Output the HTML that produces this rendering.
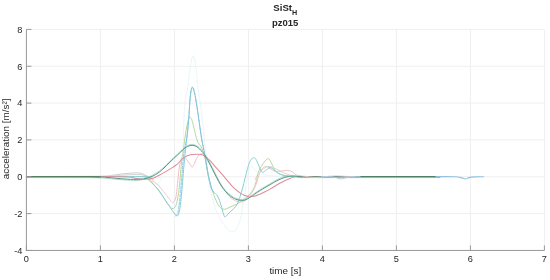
<!DOCTYPE html>
<html><head><meta charset="utf-8"><style>
html,body{margin:0;padding:0;background:#fff;}
body{width:550px;height:280px;overflow:hidden;}
svg{display:block;font-family:"Liberation Sans",Arial,sans-serif;fill:#262626;}
</style></head><body>
<svg width="550" height="280" viewBox="0 0 550 280">
<rect width="550" height="280" fill="#fff"/>
<line x1="100.40" y1="29.40" x2="100.40" y2="250.44" stroke="#efefef" stroke-width="1"/>
<line x1="174.40" y1="29.40" x2="174.40" y2="250.44" stroke="#efefef" stroke-width="1"/>
<line x1="248.40" y1="29.40" x2="248.40" y2="250.44" stroke="#efefef" stroke-width="1"/>
<line x1="322.40" y1="29.40" x2="322.40" y2="250.44" stroke="#efefef" stroke-width="1"/>
<line x1="396.40" y1="29.40" x2="396.40" y2="250.44" stroke="#efefef" stroke-width="1"/>
<line x1="470.40" y1="29.40" x2="470.40" y2="250.44" stroke="#efefef" stroke-width="1"/>
<line x1="544.40" y1="29.40" x2="544.40" y2="250.44" stroke="#efefef" stroke-width="1"/>
<line x1="26.40" y1="213.60" x2="544.40" y2="213.60" stroke="#efefef" stroke-width="1"/>
<line x1="26.40" y1="176.76" x2="544.40" y2="176.76" stroke="#efefef" stroke-width="1"/>
<line x1="26.40" y1="139.92" x2="544.40" y2="139.92" stroke="#efefef" stroke-width="1"/>
<line x1="26.40" y1="103.08" x2="544.40" y2="103.08" stroke="#efefef" stroke-width="1"/>
<line x1="26.40" y1="66.24" x2="544.40" y2="66.24" stroke="#efefef" stroke-width="1"/>
<line x1="26.40" y1="29.40" x2="544.40" y2="29.40" stroke="#efefef" stroke-width="1"/>
<path d="M95.00 176.60 C96.67 176.53 102.17 176.42 105.00 176.20 C107.83 175.98 109.50 175.63 112.00 175.30 C114.50 174.97 117.00 174.55 120.00 174.20 C123.00 173.85 126.90 173.42 130.00 173.20 C133.10 172.98 136.27 172.67 138.60 172.90 C140.93 173.13 142.18 173.87 144.00 174.60 C145.82 175.33 148.00 176.48 149.50 177.30 C151.00 178.12 152.42 179.13 153.00 179.50" fill="none" stroke="#c6c6c6" stroke-width="0.9" stroke-opacity="1" stroke-linejoin="round" stroke-linecap="round"/>
<path d="M95.00 176.70 C96.67 176.67 101.37 176.68 105.00 176.50 C108.63 176.32 113.47 175.85 116.80 175.60 C120.13 175.35 122.27 175.18 125.00 175.00 C127.73 174.82 130.70 174.57 133.20 174.50 C135.70 174.43 138.03 174.43 140.00 174.60 C141.97 174.77 143.33 175.02 145.00 175.50 C146.67 175.98 148.67 176.92 150.00 177.50 C151.33 178.08 152.50 178.75 153.00 179.00" fill="none" stroke="#cfcfcf" stroke-width="0.9" stroke-opacity="1" stroke-linejoin="round" stroke-linecap="round"/>
<path d="M255.00 180.00 C255.50 179.00 256.83 175.67 258.00 174.00 C259.17 172.33 260.33 171.25 262.00 170.00 C263.67 168.75 266.00 166.83 268.00 166.50 C270.00 166.17 272.00 167.25 274.00 168.00 C276.00 168.75 277.67 169.92 280.00 171.00 C282.33 172.08 285.33 173.60 288.00 174.50 C290.67 175.40 293.17 176.05 296.00 176.40 C298.83 176.75 303.50 176.57 305.00 176.60" fill="none" stroke="#d0d0d0" stroke-width="0.9" stroke-opacity="1" stroke-linejoin="round" stroke-linecap="round"/>
<path d="M26.40 176.60 C45.33 176.60 119.63 176.15 140.00 176.60 C160.37 177.05 146.10 177.73 148.60 179.30 C151.10 180.87 152.87 183.50 155.00 186.00 C157.13 188.50 159.40 191.47 161.40 194.30 C163.40 197.13 165.23 200.63 167.00 203.00 C168.77 205.37 170.50 208.17 172.00 208.50 C173.50 208.83 174.83 208.08 176.00 205.00 C177.17 201.92 178.08 197.00 179.00 190.00 C179.92 183.00 180.57 171.33 181.50 163.00 C182.43 154.67 183.60 146.67 184.60 140.00 C185.60 133.33 186.60 126.77 187.50 123.00 C188.40 119.23 189.17 117.57 190.00 117.40 C190.83 117.23 191.33 118.23 192.50 122.00 C193.67 125.77 195.47 135.67 197.00 140.00 C198.53 144.33 200.37 145.00 201.70 148.00 C203.03 151.00 204.03 154.00 205.00 158.00 C205.97 162.00 206.50 167.33 207.50 172.00 C208.50 176.67 209.75 181.67 211.00 186.00 C212.25 190.33 213.67 194.67 215.00 198.00 C216.33 201.33 217.75 204.17 219.00 206.00 C220.25 207.83 221.33 208.50 222.50 209.00 C223.67 209.50 224.75 209.33 226.00 209.00 C227.25 208.67 228.33 207.75 230.00 207.00 C231.67 206.25 234.00 205.50 236.00 204.50 C238.00 203.50 240.00 202.42 242.00 201.00 C244.00 199.58 246.17 197.83 248.00 196.00 C249.83 194.17 251.67 192.33 253.00 190.00 C254.33 187.67 255.08 185.00 256.00 182.00 C256.92 179.00 257.62 174.58 258.50 172.00 C259.38 169.42 260.17 168.33 261.25 166.50 C262.33 164.67 263.75 162.29 265.00 161.00 C266.25 159.71 267.60 158.25 268.75 158.75 C269.90 159.25 270.86 162.07 271.90 164.00 C272.94 165.93 273.86 168.70 275.00 170.30 C276.14 171.90 277.08 172.72 278.75 173.60 C280.42 174.48 282.79 175.13 285.00 175.60 C287.21 176.07 289.50 176.23 292.00 176.40 C294.50 176.57 275.33 176.57 300.00 176.60 C324.67 176.63 416.67 176.60 440.00 176.60" fill="none" stroke="#b9d99a" stroke-width="1" stroke-opacity="1" stroke-linejoin="round" stroke-linecap="round"/>
<path d="M26.40 176.60 C45.33 176.60 119.63 176.45 140.00 176.60 C160.37 176.75 146.70 176.93 148.60 177.50 C150.50 178.07 149.73 178.63 151.40 180.00 C153.07 181.37 156.22 183.32 158.60 185.70 C160.98 188.08 163.80 191.92 165.70 194.30 C167.60 196.68 168.82 198.63 170.00 200.00 C171.18 201.37 171.97 202.50 172.80 202.50 C173.63 202.50 174.40 201.37 175.00 200.00 C175.60 198.63 175.92 197.63 176.40 194.30 C176.88 190.97 177.38 184.72 177.90 180.00 C178.42 175.28 178.90 169.58 179.50 166.00 C180.10 162.42 180.65 159.90 181.50 158.50 C182.35 157.10 183.58 157.22 184.60 157.60 C185.62 157.98 186.70 159.67 187.60 160.80 C188.50 161.93 189.23 163.37 190.00 164.40 C190.77 165.43 191.45 167.15 192.20 167.00 C192.95 166.85 193.77 164.97 194.50 163.50 C195.23 162.03 195.85 159.62 196.60 158.20 C197.35 156.78 198.18 155.73 199.00 155.00 C199.82 154.27 200.75 153.97 201.50 153.80 C202.25 153.63 202.67 153.47 203.50 154.00 C204.33 154.53 205.33 155.33 206.50 157.00 C207.67 158.67 208.92 161.00 210.50 164.00 C212.08 167.00 214.08 171.33 216.00 175.00 C217.92 178.67 220.00 182.67 222.00 186.00 C224.00 189.33 226.00 192.67 228.00 195.00 C230.00 197.33 232.00 198.83 234.00 200.00 C236.00 201.17 238.00 202.00 240.00 202.00 C242.00 202.00 244.17 201.33 246.00 200.00 C247.83 198.67 249.58 196.00 251.00 194.00 C252.42 192.00 253.52 190.00 254.50 188.00 C255.48 186.00 256.15 184.17 256.90 182.00 C257.65 179.83 258.27 177.08 259.00 175.00 C259.73 172.92 260.15 170.92 261.25 169.50 C262.35 168.08 264.31 166.78 265.60 166.50 C266.89 166.22 267.64 167.05 269.00 167.80 C270.36 168.55 272.42 170.40 273.75 171.00 C275.08 171.60 275.75 171.40 277.00 171.40 C278.25 171.40 279.50 171.17 281.25 171.00 C283.00 170.83 285.62 170.25 287.50 170.40 C289.38 170.55 291.25 171.27 292.50 171.90 C293.75 172.53 293.75 173.45 295.00 174.20 C296.25 174.95 297.50 176.00 300.00 176.40 C302.50 176.80 286.67 176.57 310.00 176.60 C333.33 176.63 418.33 176.60 440.00 176.60" fill="none" stroke="#f2c0c8" stroke-width="1" stroke-opacity="1" stroke-linejoin="round" stroke-linecap="round"/>
<path d="M26.40 176.60 C47.00 176.60 128.07 175.37 150.00 176.60 C171.93 177.83 155.33 180.93 158.00 184.00 C160.67 187.07 163.33 191.67 166.00 195.00 C168.67 198.33 171.83 202.17 174.00 204.00 C176.17 205.83 177.67 208.33 179.00 206.00 C180.33 203.67 181.12 205.77 182.00 190.00 C182.88 174.23 183.32 128.67 184.30 111.40 C185.28 94.13 186.87 93.97 187.90 86.40 C188.93 78.83 189.62 71.07 190.50 66.00 C191.38 60.93 192.32 56.00 193.20 56.00 C194.08 56.00 195.02 60.93 195.80 66.00 C196.58 71.07 196.97 78.83 197.90 86.40 C198.83 93.97 200.38 103.30 201.40 111.40 C202.42 119.50 203.07 126.07 204.00 135.00 C204.93 143.93 205.83 155.50 207.00 165.00 C208.17 174.50 209.50 184.50 211.00 192.00 C212.50 199.50 214.33 205.33 216.00 210.00 C217.67 214.67 219.23 216.92 221.00 220.00 C222.77 223.08 225.10 226.67 226.60 228.50 C228.10 230.33 228.77 230.50 230.00 231.00 C231.23 231.50 232.75 232.17 234.00 231.50 C235.25 230.83 236.42 229.08 237.50 227.00 C238.58 224.92 239.58 222.67 240.50 219.00 C241.42 215.33 242.08 210.50 243.00 205.00 C243.92 199.50 245.08 191.50 246.00 186.00 C246.92 180.50 247.73 175.25 248.50 172.00 C249.27 168.75 249.85 167.25 250.60 166.50 C251.35 165.75 252.06 166.71 253.00 167.50 C253.94 168.29 254.88 170.17 256.25 171.25 C257.62 172.33 258.96 173.28 261.25 174.00 C263.54 174.72 266.04 175.20 270.00 175.60 C273.96 176.00 280.00 176.23 285.00 176.40 C290.00 176.57 274.17 176.57 300.00 176.60 C325.83 176.63 416.67 176.60 440.00 176.60" fill="none" stroke="#dcf0f6" stroke-width="0.8" stroke-opacity="1" stroke-linejoin="round" stroke-linecap="round" stroke-dasharray="1.2 1.2"/>
<path d="M26.40 176.60 C45.33 176.60 120.23 176.53 140.00 176.60 C159.77 176.67 143.10 176.02 145.00 177.00 C146.90 177.98 149.13 180.33 151.40 182.50 C153.67 184.67 156.45 187.32 158.60 190.00 C160.75 192.68 162.40 195.75 164.30 198.60 C166.20 201.45 168.38 204.70 170.00 207.10 C171.62 209.50 172.87 211.55 174.00 213.00 C175.13 214.45 176.03 215.63 176.80 215.80 C177.57 215.97 178.07 215.38 178.60 214.00 C179.13 212.62 179.53 210.67 180.00 207.50 C180.47 204.33 180.97 199.28 181.40 195.00 C181.83 190.72 182.17 186.80 182.60 181.80 C183.03 176.80 183.52 170.30 184.00 165.00 C184.48 159.70 185.03 154.50 185.50 150.00 C185.97 145.50 186.38 141.83 186.80 138.00 C187.22 134.17 187.63 130.83 188.00 127.00 C188.37 123.17 188.68 119.33 189.00 115.00 C189.32 110.67 189.57 105.00 189.90 101.00 C190.23 97.00 190.60 93.30 191.00 91.00 C191.40 88.70 191.83 87.37 192.30 87.20 C192.77 87.03 193.27 88.28 193.80 90.00 C194.33 91.72 194.97 94.67 195.50 97.50 C196.03 100.33 196.48 103.58 197.00 107.00 C197.52 110.42 198.05 114.17 198.60 118.00 C199.15 121.83 199.70 126.00 200.30 130.00 C200.90 134.00 201.53 138.33 202.20 142.00 C202.87 145.67 203.63 148.50 204.30 152.00 C204.97 155.50 205.55 159.17 206.20 163.00 C206.85 166.83 207.57 171.67 208.20 175.00 C208.83 178.33 209.42 180.67 210.00 183.00 C210.58 185.33 211.12 187.47 211.70 189.00 C212.28 190.53 212.87 191.43 213.50 192.20 C214.13 192.97 214.83 192.97 215.50 193.60 C216.17 194.23 216.83 194.85 217.50 196.00 C218.17 197.15 218.80 198.58 219.50 200.50 C220.20 202.42 221.03 205.25 221.70 207.50 C222.37 209.75 222.95 212.40 223.50 214.00 C224.05 215.60 224.30 217.05 225.00 217.10 C225.70 217.15 226.68 215.32 227.70 214.30 C228.72 213.28 229.95 212.08 231.10 211.00 C232.25 209.92 233.63 208.87 234.60 207.80 C235.57 206.73 236.23 205.73 236.90 204.60 C237.57 203.47 238.05 202.43 238.60 201.00 C239.15 199.57 239.53 198.17 240.20 196.00 C240.87 193.83 241.80 190.92 242.60 188.00 C243.40 185.08 244.17 181.75 245.00 178.50 C245.83 175.25 246.78 171.33 247.60 168.50 C248.42 165.67 248.95 163.32 249.90 161.50 C250.85 159.68 252.28 157.93 253.30 157.60 C254.32 157.27 255.13 158.27 256.00 159.50 C256.87 160.73 257.62 163.08 258.50 165.00 C259.38 166.92 260.50 169.77 261.25 171.00 C262.00 172.23 262.27 172.48 263.00 172.40 C263.73 172.32 264.43 171.30 265.60 170.50 C266.77 169.70 268.64 167.75 270.00 167.60 C271.36 167.45 272.50 168.73 273.75 169.60 C275.00 170.47 276.04 171.90 277.50 172.80 C278.96 173.70 280.62 174.43 282.50 175.00 C284.38 175.57 286.50 175.98 288.75 176.25 C291.00 176.52 270.79 176.54 296.00 176.60 C321.21 176.66 416.00 176.60 440.00 176.60" fill="none" stroke="#86d0d6" stroke-width="1" stroke-opacity="1" stroke-linejoin="round" stroke-linecap="round"/>
<path d="M175.60 215.80 C175.90 215.50 176.87 215.38 177.40 214.00 C177.93 212.62 178.33 210.67 178.80 207.50 C179.27 204.33 179.77 199.28 180.20 195.00 C180.63 190.72 180.97 186.80 181.40 181.80 C181.83 176.80 182.32 170.30 182.80 165.00 C183.28 159.70 183.63 154.50 184.30 150.00 C184.97 145.50 186.18 141.83 186.80 138.00 C187.42 134.17 187.63 130.83 188.00 127.00 C188.37 123.17 188.68 119.33 189.00 115.00 C189.32 110.67 189.57 105.00 189.90 101.00 C190.23 97.00 190.60 93.30 191.00 91.00 C191.40 88.70 191.83 87.37 192.30 87.20 C192.77 87.03 193.27 88.28 193.80 90.00 C194.33 91.72 194.97 94.67 195.50 97.50 C196.03 100.33 196.48 103.58 197.00 107.00 C197.52 110.42 198.05 114.17 198.60 118.00 C199.15 121.83 199.70 126.00 200.30 130.00 C200.90 134.00 201.53 138.33 202.20 142.00 C202.87 145.67 203.63 148.50 204.30 152.00 C204.97 155.50 205.55 159.17 206.20 163.00 C206.85 166.83 207.57 171.67 208.20 175.00 C208.83 178.33 209.42 180.67 210.00 183.00 C210.58 185.33 211.12 187.47 211.70 189.00 C212.28 190.53 213.20 191.67 213.50 192.20" fill="none" stroke="#86bde0" stroke-width="0.9" stroke-opacity="1" stroke-linejoin="round" stroke-linecap="round" stroke-dasharray="2.4 1.6"/>
<path d="M26.40 176.60 C42.00 176.63 101.90 176.53 120.00 176.80 C138.10 177.07 130.83 177.78 135.00 178.20 C139.17 178.62 141.90 179.35 145.00 179.30 C148.10 179.25 150.75 178.85 153.60 177.90 C156.45 176.95 159.25 175.15 162.10 173.60 C164.95 172.05 168.07 170.27 170.70 168.60 C173.33 166.93 175.97 165.23 177.90 163.60 C179.83 161.97 180.73 160.10 182.30 158.80 C183.87 157.50 185.63 156.53 187.30 155.80 C188.97 155.07 190.52 154.67 192.30 154.40 C194.08 154.13 196.47 154.17 198.00 154.20 C199.53 154.23 200.40 154.25 201.50 154.60 C202.60 154.95 203.13 155.27 204.60 156.30 C206.07 157.33 208.57 159.12 210.30 160.80 C212.03 162.48 213.03 164.15 215.00 166.40 C216.97 168.65 220.10 172.00 222.10 174.30 C224.10 176.60 225.08 177.98 227.00 180.20 C228.92 182.42 231.32 185.40 233.60 187.60 C235.88 189.80 238.80 192.07 240.70 193.40 C242.60 194.73 243.70 195.08 245.00 195.60 C246.30 196.12 247.07 196.38 248.50 196.50 C249.93 196.62 251.80 196.65 253.60 196.30 C255.40 195.95 257.40 195.15 259.30 194.40 C261.20 193.65 263.07 192.77 265.00 191.80 C266.93 190.83 269.07 189.65 270.90 188.60 C272.73 187.55 274.18 186.55 276.00 185.50 C277.82 184.45 280.13 183.20 281.80 182.30 C283.47 181.40 284.55 180.78 286.00 180.10 C287.45 179.42 288.83 178.75 290.50 178.20 C292.17 177.65 293.35 177.07 296.00 176.80 C298.65 176.53 282.40 176.63 306.40 176.60 C330.40 176.57 417.73 176.60 440.00 176.60" fill="none" stroke="#df8d99" stroke-width="1.05" stroke-opacity="1" stroke-linejoin="round" stroke-linecap="round"/>
<path d="M26.40 177.60 C37.00 177.62 76.75 177.58 90.00 177.70 C103.25 177.82 101.43 178.02 105.90 178.30 C110.37 178.58 113.17 179.08 116.80 179.40 C120.43 179.72 124.07 180.03 127.70 180.20 C131.33 180.37 135.72 180.67 138.60 180.40 C141.48 180.13 142.75 179.43 145.00 178.60 C147.25 177.77 149.72 176.65 152.10 175.40 C154.48 174.15 156.92 172.88 159.30 171.10 C161.68 169.32 164.02 166.95 166.40 164.70 C168.78 162.45 171.22 159.87 173.60 157.60 C175.98 155.33 178.78 152.90 180.70 151.10 C182.62 149.30 183.55 147.88 185.10 146.80 C186.65 145.72 188.52 144.97 190.00 144.60 C191.48 144.23 192.67 144.28 194.00 144.60 C195.33 144.92 196.88 145.72 198.00 146.50 C199.12 147.28 199.85 148.43 200.70 149.30 C201.55 150.17 202.15 150.45 203.10 151.70 C204.05 152.95 204.90 154.15 206.40 156.80 C207.90 159.45 210.43 164.38 212.10 167.60 C213.77 170.82 214.97 173.37 216.40 176.10 C217.83 178.83 219.18 181.62 220.70 184.00 C222.22 186.38 223.60 188.35 225.50 190.40 C227.40 192.45 230.18 194.93 232.10 196.30 C234.02 197.67 235.52 198.10 237.00 198.60 C238.48 199.10 239.67 199.23 241.00 199.30 C242.33 199.37 243.38 199.55 245.00 199.00 C246.62 198.45 249.15 196.93 250.70 196.00 C252.25 195.07 252.75 194.47 254.30 193.40 C255.85 192.33 258.22 190.73 260.00 189.60 C261.78 188.47 263.18 187.67 265.00 186.60 C266.82 185.53 269.07 184.27 270.90 183.20 C272.73 182.13 274.18 181.15 276.00 180.20 C277.82 179.25 279.97 178.17 281.80 177.50 C283.63 176.83 285.30 176.41 287.00 176.17 C288.70 175.92 289.83 175.84 292.00 176.03 C294.17 176.22 297.00 177.04 300.00 177.30 C303.00 177.56 286.67 177.55 310.00 177.60 C333.33 177.65 418.33 177.60 440.00 177.60" fill="none" stroke="#a8d6cc" stroke-width="0.9" stroke-opacity="1" stroke-linejoin="round" stroke-linecap="round"/>
<path d="M26.40 176.60 C37.00 176.62 76.75 176.58 90.00 176.70 C103.25 176.82 101.43 177.02 105.90 177.30 C110.37 177.58 113.17 178.08 116.80 178.40 C120.43 178.72 124.07 179.03 127.70 179.20 C131.33 179.37 135.72 179.50 138.60 179.40 C141.48 179.30 142.75 179.10 145.00 178.60 C147.25 178.10 149.72 177.48 152.10 176.40 C154.48 175.32 156.92 173.88 159.30 172.10 C161.68 170.32 164.02 167.95 166.40 165.70 C168.78 163.45 171.22 160.87 173.60 158.60 C175.98 156.33 178.78 153.90 180.70 152.10 C182.62 150.30 183.55 148.88 185.10 147.80 C186.65 146.72 188.52 145.97 190.00 145.60 C191.48 145.23 192.67 145.28 194.00 145.60 C195.33 145.92 196.88 146.72 198.00 147.50 C199.12 148.28 199.85 149.43 200.70 150.30 C201.55 151.17 202.15 151.45 203.10 152.70 C204.05 153.95 204.90 155.15 206.40 157.80 C207.90 160.45 210.43 165.38 212.10 168.60 C213.77 171.82 214.97 174.37 216.40 177.10 C217.83 179.83 219.18 182.62 220.70 185.00 C222.22 187.38 223.60 189.35 225.50 191.40 C227.40 193.45 230.18 195.93 232.10 197.30 C234.02 198.67 235.52 199.10 237.00 199.60 C238.48 200.10 239.67 200.23 241.00 200.30 C242.33 200.37 243.38 200.55 245.00 200.00 C246.62 199.45 249.15 197.93 250.70 197.00 C252.25 196.07 252.75 195.47 254.30 194.40 C255.85 193.33 258.22 191.73 260.00 190.60 C261.78 189.47 263.18 188.67 265.00 187.60 C266.82 186.53 269.07 185.27 270.90 184.20 C272.73 183.13 274.18 182.15 276.00 181.20 C277.82 180.25 279.97 179.22 281.80 178.50 C283.63 177.78 285.30 177.30 287.00 176.90 C288.70 176.50 289.83 176.20 292.00 176.10 C294.17 176.00 297.00 176.22 300.00 176.30 C303.00 176.38 286.67 176.55 310.00 176.60 C333.33 176.65 418.33 176.60 440.00 176.60" fill="none" stroke="#529a82" stroke-width="1.0" stroke-opacity="1" stroke-linejoin="round" stroke-linecap="round"/>
<path d="M300.00 176.60 C323.33 176.60 416.67 176.60 440.00 176.60" fill="none" stroke="#4f7f66" stroke-width="1.2" stroke-opacity="1" stroke-linejoin="round" stroke-linecap="round"/>
<path d="M26.40 176.60 C32.00 176.60 49.40 176.58 60.00 176.60 C70.60 176.62 83.33 176.65 90.00 176.70 C96.67 176.75 98.33 176.87 100.00 176.90" fill="none" stroke="#557f5e" stroke-width="1.2" stroke-opacity="1" stroke-linejoin="round" stroke-linecap="round"/>
<path d="M296.00 175.20 C297.50 175.38 301.83 175.95 305.00 176.30 C308.17 176.65 311.67 177.25 315.00 177.30 C318.33 177.35 321.67 176.85 325.00 176.60 C328.33 176.35 331.67 175.85 335.00 175.80 C338.33 175.75 341.67 176.17 345.00 176.30 C348.33 176.43 353.33 176.55 355.00 176.60" fill="none" stroke="#f0c8cf" stroke-width="0.9" stroke-opacity="1" stroke-linejoin="round" stroke-linecap="round"/>
<path d="M322.00 176.60 C323.67 176.63 329.50 176.57 332.00 176.80 C334.50 177.03 335.50 177.63 337.00 178.00 C338.50 178.37 339.67 179.00 341.00 179.00 C342.33 179.00 343.33 178.35 345.00 178.00 C346.67 177.65 348.50 177.13 351.00 176.90 C353.50 176.67 358.50 176.65 360.00 176.60" fill="none" stroke="#a9cfe8" stroke-width="0.9" stroke-opacity="1" stroke-linejoin="round" stroke-linecap="round"/>
<path d="M436.00 176.60 C437.50 176.60 441.83 176.57 445.00 176.60 C448.17 176.63 452.33 176.63 455.00 176.80 C457.67 176.97 459.25 177.23 461.00 177.60 C462.75 177.97 464.17 179.00 465.50 179.00 C466.83 179.00 467.42 177.95 469.00 177.60 C470.58 177.25 472.58 177.03 475.00 176.90 C477.42 176.77 482.08 176.82 483.50 176.80" fill="none" stroke="#92c2e2" stroke-width="1.1" stroke-opacity="1" stroke-linejoin="round" stroke-linecap="round"/>
<line x1="26.40" y1="29.40" x2="26.40" y2="250.94" stroke="#979797" stroke-width="1"/>
<line x1="25.90" y1="250.44" x2="544.40" y2="250.44" stroke="#979797" stroke-width="1"/>
<line x1="26.40" y1="250.44" x2="26.40" y2="245.44" stroke="#979797" stroke-width="1"/>
<line x1="100.40" y1="250.44" x2="100.40" y2="245.44" stroke="#979797" stroke-width="1"/>
<line x1="174.40" y1="250.44" x2="174.40" y2="245.44" stroke="#979797" stroke-width="1"/>
<line x1="248.40" y1="250.44" x2="248.40" y2="245.44" stroke="#979797" stroke-width="1"/>
<line x1="322.40" y1="250.44" x2="322.40" y2="245.44" stroke="#979797" stroke-width="1"/>
<line x1="396.40" y1="250.44" x2="396.40" y2="245.44" stroke="#979797" stroke-width="1"/>
<line x1="470.40" y1="250.44" x2="470.40" y2="245.44" stroke="#979797" stroke-width="1"/>
<line x1="544.40" y1="250.44" x2="544.40" y2="245.44" stroke="#979797" stroke-width="1"/>
<line x1="26.40" y1="250.44" x2="31.40" y2="250.44" stroke="#979797" stroke-width="1"/>
<line x1="26.40" y1="213.60" x2="31.40" y2="213.60" stroke="#979797" stroke-width="1"/>
<line x1="26.40" y1="176.76" x2="31.40" y2="176.76" stroke="#979797" stroke-width="1"/>
<line x1="26.40" y1="139.92" x2="31.40" y2="139.92" stroke="#979797" stroke-width="1"/>
<line x1="26.40" y1="103.08" x2="31.40" y2="103.08" stroke="#979797" stroke-width="1"/>
<line x1="26.40" y1="66.24" x2="31.40" y2="66.24" stroke="#979797" stroke-width="1"/>
<line x1="26.40" y1="29.40" x2="31.40" y2="29.40" stroke="#979797" stroke-width="1"/>
<text x="26.40" y="261.90" text-anchor="middle" font-size="9.2">0</text>
<text x="100.40" y="261.90" text-anchor="middle" font-size="9.2">1</text>
<text x="174.40" y="261.90" text-anchor="middle" font-size="9.2">2</text>
<text x="248.40" y="261.90" text-anchor="middle" font-size="9.2">3</text>
<text x="322.40" y="261.90" text-anchor="middle" font-size="9.2">4</text>
<text x="396.40" y="261.90" text-anchor="middle" font-size="9.2">5</text>
<text x="470.40" y="261.90" text-anchor="middle" font-size="9.2">6</text>
<text x="544.40" y="261.90" text-anchor="middle" font-size="9.2">7</text>
<text x="22.30" y="253.84" text-anchor="end" font-size="9.2">-4</text>
<text x="22.30" y="217.00" text-anchor="end" font-size="9.2">-2</text>
<text x="22.30" y="180.16" text-anchor="end" font-size="9.2">0</text>
<text x="22.30" y="143.32" text-anchor="end" font-size="9.2">2</text>
<text x="22.30" y="106.48" text-anchor="end" font-size="9.2">4</text>
<text x="22.30" y="69.64" text-anchor="end" font-size="9.2">6</text>
<text x="22.30" y="32.80" text-anchor="end" font-size="9.2">8</text>
<text x="285.30" y="274.30" text-anchor="middle" font-size="9.9">time [s]</text>
<text transform="translate(9.2 138.8) rotate(-90)" text-anchor="middle" font-size="9.9">acceleration [m/s²]</text>
<text x="285.3" y="10.7" text-anchor="middle" font-size="9.6" font-weight="bold">SiSt<tspan font-size="7.2" dy="4.6">H</tspan></text>
<text x="285.1" y="26.3" text-anchor="middle" font-size="9.5" font-weight="bold">pz015</text>
</svg>
</body></html>
